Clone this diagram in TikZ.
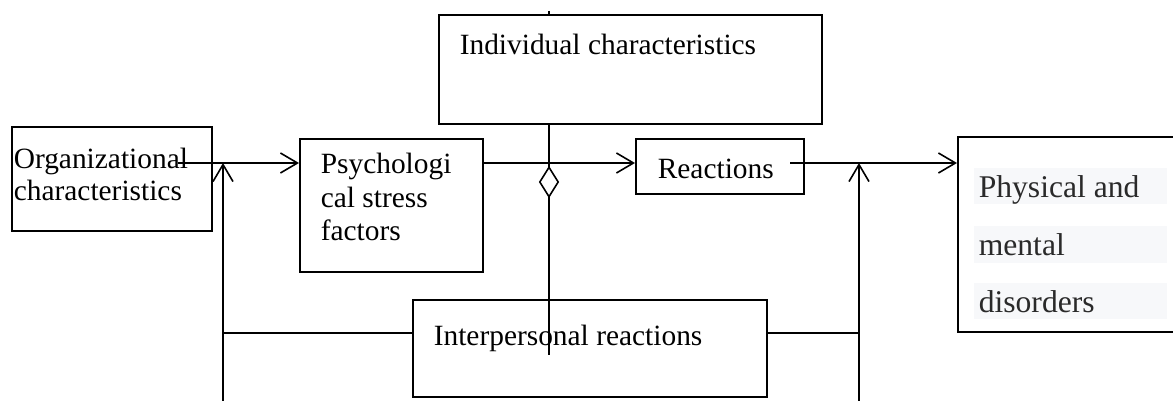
\documentclass[tikz,border=0pt]{standalone}
\usepackage{fontspec}
\setmainfont{Liberation Serif}
\usetikzlibrary{arrows.meta,shapes.geometric}
\definecolor{bandgray}{HTML}{F7F8FA}
\definecolor{textgray}{HTML}{2A2A2A}
\begin{document}
\begin{tikzpicture}[x=0.5pt, y=-0.5pt, line width=0.8pt,
    box/.style={draw, rectangle, anchor=north west, inner sep=0pt},
    txt/.style={anchor=base west, inner sep=0pt, align=left, font=\fontsize{14.7}{16.75}\selectfont},
    bigtxt/.style={anchor=base west, inner sep=0pt, text=textgray, font=\fontsize{15.8}{19}\selectfont},
    arr/.style={-{Straight Barb[length=8.5pt, width=10pt]}}]
    \useasboundingbox (0,0) rectangle (1173,401);
    % boxes
    \node[box, minimum width=100pt, minimum height=52pt] (org) at (11,126) {};
    \node[box, minimum width=91.5pt, minimum height=66.5pt] (psych) at (299,138) {};
    \node[box, minimum width=191.5pt, minimum height=54.5pt] (indiv) at (438,14) {};
    \node[box, minimum width=84pt, minimum height=27.5pt] (react) at (635,138) {};
    \node[box, minimum width=177pt, minimum height=48.5pt] (inter) at (412,299) {};
    \node[box, minimum width=112pt, minimum height=97.5pt] (phys) at (957,136) {};
    % texts
    \node[txt, font=\fontsize{14.7}{16}\selectfont] (orgtext) at (13,200) {Organizational\\characteristics};
    \node[txt] (psychtext) at (320,241) {Psychologi\\cal stress\\factors};
    \node[txt] (indivtext) at (459,55) {Individual characteristics};
    \node[txt] (reacttext) at (657,178) {Reactions};
    \node[txt] (intertext) at (433,345) {Interpersonal reactions};
    \fill[bandgray] (974,168) rectangle (1167,204);
    \fill[bandgray] (974,226) rectangle (1167,263);
    \fill[bandgray] (974,283) rectangle (1167,319);
    \node[bigtxt] (phystext1) at (978,198) {Physical and};
    \node[bigtxt] (phystext2) at (978,255) {mental};
    \node[bigtxt] (phystext3) at (978,312) {disorders};
    % connectors
    \coordinate (orgout) at (178,163);
    \coordinate (reactout) at (790,163);
    \coordinate (fbl) at (223,401);
    \coordinate (fbr) at (859,401);
    \coordinate (fbline) at (0,333);
    \coordinate (mid) at (549,355);
    \coordinate (tick) at (549,11);
    \draw[arr] (orgout) -- (orgout -| psych.west);
    \draw[arr] (psych.east |- orgout) -- (react.west |- orgout);
    \draw[arr] (reactout) -- (reactout -| phys.west);
    \draw[arr] (fbl) -- (fbl |- orgout);
    \draw[arr] (fbr) -- (fbr |- orgout);
    \draw (fbl |- fbline) -- (inter.west |- fbline);
    \draw (inter.east |- fbline) -- (fbr |- fbline);
    \draw (mid |- indiv.south) -- (mid);
    \draw (tick) -- (tick |- indiv.north);
    \node[diamond, draw, fill=white, inner sep=0pt, minimum width=9.5pt, minimum height=15pt] (dia) at (549,182) {};
\end{tikzpicture}
\end{document}
